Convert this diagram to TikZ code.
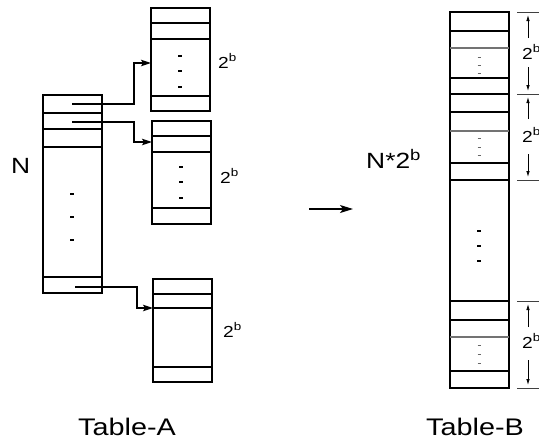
\documentclass[tikz,border=0pt]{standalone}
\usepackage{fontspec}
\setmainfont[FakeStretch=1.2]{Liberation Sans}
\usetikzlibrary{arrows.meta}
\begin{document}
\begin{tikzpicture}[x=1pt,y=-1pt,
  tbl/.style={draw, line width=1.6pt, inner sep=0pt, outer sep=0pt, anchor=north west},
  row/.style={line width=1.2pt},
  thickrow/.style={line width=1.6pt},
  greyrow/.style={line width=1.2pt, black!55},
  link/.style={line width=1.2pt, -{Stealth[length=10pt,width=6.5pt,inset=2pt]}},
  bigarrow/.style={line width=1.3pt, -{Stealth[length=13pt,width=8pt,inset=3pt]}},
  tick/.style={line width=1.4pt},
  greytick/.style={line width=0.7pt, black!60},
  dimline/.style={line width=0.8pt, black!75},
  dimarrow/.style={line width=0.8pt, -{Latex[length=6pt,width=3.5pt]}},
  big/.style={font=\fontsize{24}{24}\selectfont, inner sep=0pt},
  mid/.style={font=\fontsize{22}{22}\selectfont, inner sep=0pt},
  small/.style={font=\fontsize{16}{16}\selectfont, inner sep=0pt}]
\useasboundingbox (0,0) rectangle (539,440);

% ---- Table-A: index column ----
\node[tbl, minimum width=59pt, minimum height=198pt] (A) at (43,95) {};
\foreach \y in {113,129,147,277}
  \draw[row] (A.west |- 0,\y) -- (A.east |- 0,\y);
\foreach \y in {194,217,240}
  \draw[tick] (70,\y) -- (74,\y);

% ---- Table-A: sub-tables ----
\node[tbl, minimum width=59pt, minimum height=103pt] (T1) at (151,8) {};
\foreach \y in {23,39,96}
  \draw[row] (T1.west |- 0,\y) -- (T1.east |- 0,\y);
\foreach \y in {56,71,87}
  \draw[tick] (178,\y) -- (182,\y);

\node[tbl, minimum width=59pt, minimum height=103pt] (T2) at (152,121) {};
\foreach \y in {136,152,208}
  \draw[row] (T2.west |- 0,\y) -- (T2.east |- 0,\y);
\foreach \y in {167,182,198}
  \draw[tick] (179,\y) -- (183,\y);

\node[tbl, minimum width=59pt, minimum height=103pt] (T3) at (153,279) {};
\foreach \y in {294,308,367}
  \draw[row] (T3.west |- 0,\y) -- (T3.east |- 0,\y);

% ---- pointers from index rows ----
\coordinate (p1) at (72,104);
\coordinate (p2) at (72,122);
\coordinate (p3) at (75,287);
\draw[link] (p1) -- (134,104) |- (T1.west |- 0,63);
\draw[link] (p2) -- (134,122) |- (T2.west |- 0,142);
\draw[link] (p3) -- (137,287) |- (T3.west |- 0,308);

% ---- labels of Table-A ----
\node[mid, anchor=base west] (lN) at (11,173) {N};
\node[small, anchor=base west] (l1) at (218,68) {2\textsuperscript{b}};
\node[small, anchor=base west] (l2) at (220,183) {2\textsuperscript{b}};
\node[small, anchor=base west] (l3) at (223,337) {2\textsuperscript{b}};
\node[big, anchor=base] (tA) at (127,435) {Table-A};

% ---- transformation arrow ----
\coordinate (m1) at (309,209);
\coordinate (m2) at (353,209);
\draw[bigarrow] (m1) -- (m2);

% ---- Table-B ----
\node[tbl, minimum width=59pt, minimum height=376pt] (B) at (450,12) {};
\foreach \y in {31,78,112,163,320,371}
  \draw[row] (B.west |- 0,\y) -- (B.east |- 0,\y);
\foreach \y in {48,131,337}
  \draw[greyrow] (B.west |- 0,\y) -- (B.east |- 0,\y);
\foreach \y in {94,180,301}
  \draw[thickrow] (B.west |- 0,\y) -- (B.east |- 0,\y);
\foreach \y in {57,65,73,138,147,155,345,354,363}
  \draw[greytick] (477.5,\y) -- (480.5,\y);
\foreach \y in {231,246,261}
  \draw[tick] (477,\y) -- (481,\y);

% ---- block extents beside Table-B ----
\foreach \y in {12,94,180,301,388}
  \draw[dimline] (517,\y) -- (545,\y);
\draw[dimarrow] (528,38) -- (528,15);
\draw[dimarrow] (528,67) -- (528,91);
\draw[dimarrow] (528,119) -- (528,97);
\draw[dimarrow] (528,154) -- (528,177);
\draw[dimarrow] (528,327) -- (528,304);
\draw[dimarrow] (528,360) -- (528,385);
\node[small, anchor=base west] (b1) at (522,59) {2\textsuperscript{b}};
\node[small, anchor=base west] (b2) at (522,142) {2\textsuperscript{b}};
\node[small, anchor=base west] (b3) at (522,348) {2\textsuperscript{b}};

\node[mid, anchor=base west] (lNB) at (366,168) {N*2\textsuperscript{b}};
\node[big, anchor=base] (tB) at (475,435) {Table-B};
\end{tikzpicture}
\end{document}
